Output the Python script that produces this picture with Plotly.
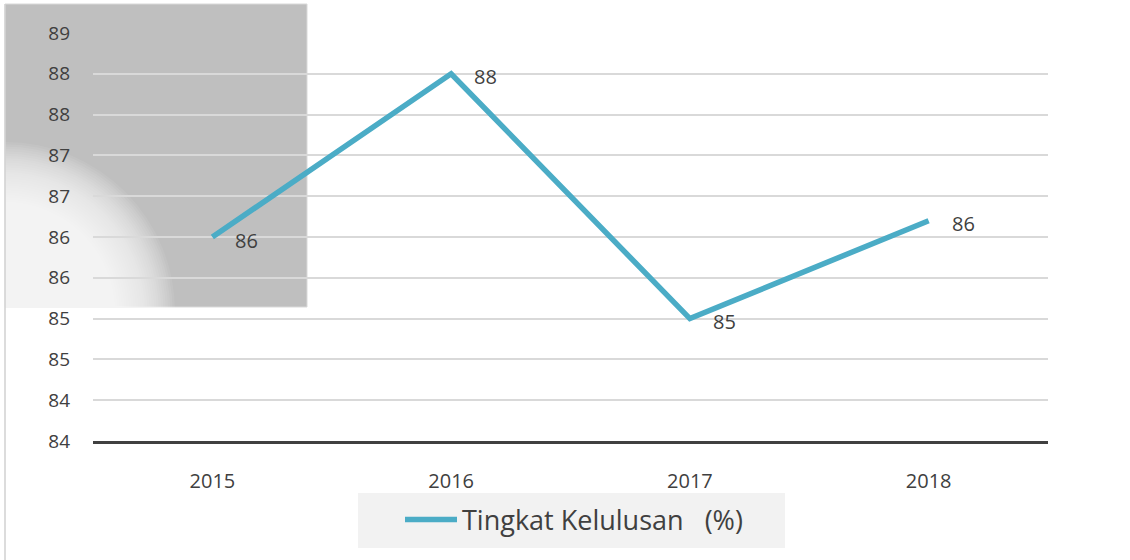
import plotly.graph_objects as go

years = ["2015", "2016", "2017", "2018"]
values = [86.0, 88.0, 85.0, 86.2]
label_text = ["86", "88", "85", "86"]
ytick_vals = [83.5, 84.0, 84.5, 85.0, 85.5, 86.0, 86.5, 87.0, 87.5, 88.0, 88.5]
ytick_text = ["84", "84", "85", "85", "86", "86", "87", "87", "88", "88", "89"]
series_name = "Tingkat Kelulusan\u00a0\u00a0\u00a0(%)"

W, H = 1130, 560
L, R, T, B = 93, 1048, 33, 441


def px(x):
    return (x - L) / (R - L)


def py(y):
    return (B - y) / (B - T)


xs = list(range(len(years)))

fig = go.Figure()
fig.add_trace(go.Scatter(
    x=xs, y=values, mode="lines", name=series_name,
    line=dict(color="#4BACC6", width=5.5),
    hoverinfo="skip",
))

shapes = []
# grey panel top-left
shapes.append(dict(type="rect", xref="paper", yref="paper",
                   x0=px(5), x1=px(307), y0=py(307), y1=py(4),
                   fillcolor="#BFBFBF", line=dict(color="#D9D9D9", width=1), layer="below"))
# radial white glow at bottom-left of panel
N = 60
cx, cy = 5, 312
r_in, r_out = 35, 170
for k in range(N):
    r = r_out - (r_out - r_in) * k / (N - 1)
    shapes.append(dict(type="circle", xref="paper", yref="paper",
                       x0=px(cx - r), x1=px(cx + r), y0=py(cy + r), y1=py(cy - r),
                       fillcolor="rgba(255,255,255,0.075)", line=dict(width=0), layer="below"))
# cover spill of glow outside the panel (below and left)
shapes.append(dict(type="rect", xref="paper", yref="paper",
                   x0=px(-5), x1=px(310), y0=py(560), y1=py(308),
                   fillcolor="white", line=dict(width=0), layer="below"))
shapes.append(dict(type="rect", xref="paper", yref="paper",
                   x0=px(-5), x1=px(4.5), y0=py(560), y1=py(0),
                   fillcolor="white", line=dict(width=0), layer="below"))
# left border line
shapes.append(dict(type="line", xref="paper", yref="paper",
                   x0=px(5), x1=px(5), y0=py(560), y1=py(4),
                   line=dict(color="#D0D0D0", width=1.5), layer="below"))
# legend box
shapes.append(dict(type="rect", xref="paper", yref="paper",
                   x0=px(358), x1=px(785), y0=py(548), y1=py(493),
                   fillcolor="#F2F2F2", line=dict(width=0), layer="below"))

annotations = []
for x, v, t in zip(xs, values, label_text):
    annotations.append(dict(x=x, y=v, xref="x", yref="y", text=t, showarrow=False,
                            xanchor="left", yanchor="middle", xshift=21, yshift=-3,
                            font=dict(size=20, color="#404040", family="Open Sans")))

fig.update_layout(
    width=W, height=H,
    margin=dict(l=L, r=W - R, t=T, b=H - B),
    paper_bgcolor="white", plot_bgcolor="rgba(0,0,0,0)",
    font=dict(family="Open Sans", color="#404040"),
    shapes=shapes,
    annotations=annotations,
    showlegend=True,
    legend=dict(orientation="h", x=px(574), y=py(520), xanchor="center", yanchor="middle",
                bgcolor="rgba(0,0,0,0)", font=dict(size=27, color="#404040", family="Open Sans"),
                itemwidth=52),
    xaxis=dict(
        range=[-0.5, 3.5],
        tickmode="array", tickvals=xs, ticktext=years,
        showgrid=False, zeroline=False,
        showline=True, linecolor="#404040", linewidth=3,
        ticks="", ticklabelstandoff=20,
        tickfont=dict(size=20, color="#404040"),
        fixedrange=True,
    ),
    yaxis=dict(
        range=[83.5, 88.5],
        tickmode="array", tickvals=ytick_vals, ticktext=ytick_text,
        showgrid=True, gridcolor="#D9D9D9", gridwidth=1.5,
        zeroline=False, showline=False, ticks="", ticklabelstandoff=22,
        tickfont=dict(size=19, color="#404040"),
        fixedrange=True,
    ),
)

fig.write_html("out.html", config={"displayModeBar": False},
               post_script="document.body.style.margin='0';")
